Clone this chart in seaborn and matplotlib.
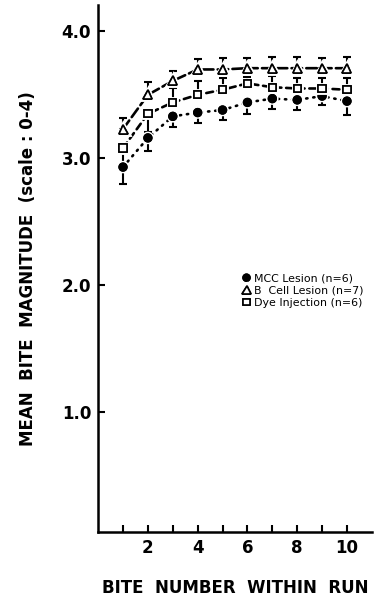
import numpy as np
import pandas as pd
import matplotlib
matplotlib.use("Agg")
import matplotlib.pyplot as plt
import matplotlib.patheffects as pe
import seaborn as sns

# Bite number within a run
bites = [1, 2, 3, 4, 5, 6, 7, 8, 9, 10]

# Mean bite magnitude per group
mcc_mean = [2.93, 3.16, 3.33, 3.36, 3.38, 3.44, 3.47, 3.46, 3.49, 3.45]
bcell_mean = [3.23, 3.50, 3.61, 3.70, 3.70, 3.71, 3.71, 3.71, 3.71, 3.71]
dye_mean = [3.08, 3.35, 3.44, 3.50, 3.54, 3.59, 3.56, 3.55, 3.55, 3.54]

# Standard errors (lower, upper) as drawn for each group
mcc_err_lo = [0.13, 0.10, 0.08, 0.08, 0.08, 0.09, 0.08, 0.08, 0.07, 0.11]
mcc_err_hi = [0, 0, 0, 0, 0, 0, 0, 0, 0, 0]
bcell_err_lo = [0, 0, 0, 0, 0, 0, 0, 0, 0, 0]
bcell_err_hi = [0.09, 0.10, 0.08, 0.08, 0.09, 0.08, 0.09, 0.09, 0.08, 0.09]
dye_err_lo = [0.13, 0.14, 0, 0, 0, 0, 0, 0, 0, 0]
dye_err_hi = [0, 0, 0.11, 0.11, 0.09, 0.05, 0.09, 0.08, 0.08, 0.09]

labels = ["MCC Lesion (n=6)", "B  Cell Lesion (n=7)", "Dye Injection (n=6)"]

df = pd.DataFrame({
    "bite": bites * 3,
    "mean": mcc_mean + bcell_mean + dye_mean,
    "group": [labels[0]] * 10 + [labels[1]] * 10 + [labels[2]] * 10,
})

sns.set_style("ticks")
plt.rcParams["font.family"] = ["DejaVu Sans"]
plt.rcParams["text.color"] = "black"
plt.rcParams["axes.labelcolor"] = "black"

fig = plt.figure(figsize=(3.76, 6.0), dpi=100)
ax = fig.add_axes([0.261, 0.113, 0.728, 0.879])

styles = {
    labels[0]: dict(ls=(0, (0.5, 2.2)), marker="o", mfc="black", ms=5.5,
                    lo=mcc_err_lo, hi=mcc_err_hi, mean=mcc_mean),
    labels[1]: dict(ls=(0, (4.0, 1.6)), marker="^", mfc="white", ms=6.5,
                    lo=bcell_err_lo, hi=bcell_err_hi, mean=bcell_mean),
    labels[2]: dict(ls=(0, (2.6, 1.8)), marker="s", mfc="white", ms=5.2,
                    lo=dye_err_lo, hi=dye_err_hi, mean=dye_mean),
}

handles = []
for g in labels:
    st = styles[g]
    sub = df[df["group"] == g]
    sns.lineplot(data=sub, x="bite", y="mean", ax=ax, color="black",
                 linewidth=1.9, linestyle=st["ls"], dash_capstyle="round",
                 legend=False, zorder=2)
    ax.errorbar(bites, st["mean"], yerr=[st["lo"], st["hi"]], fmt="none",
                ecolor="black", elinewidth=1.5, capsize=3.2, capthick=1.5,
                zorder=3)
    h, = ax.plot(bites, st["mean"], linestyle="none", marker=st["marker"],
                 ms=st["ms"], mfc=st["mfc"], mec="black", mew=1.2, zorder=4,
                 path_effects=[pe.withStroke(linewidth=3.5, foreground="white"),
                               pe.Normal()])
    handles.append(h)

ax.set_xlim(0, 11)
ax.set_ylim(0.05, 4.21)
ax.set_xticks(bites)
ax.set_xticklabels(["" if b % 2 else str(b) for b in bites])
ax.set_yticks([1.0, 2.0, 3.0, 4.0])
ax.set_yticklabels(["1.0", "2.0", "3.0", "4.0"])
ax.tick_params(axis="both", direction="in", length=5, width=1.5,
               labelsize=12, pad=5, colors="black")
for lab in ax.get_xticklabels() + ax.get_yticklabels():
    lab.set_fontweight("bold")

for side in ["top", "right"]:
    ax.spines[side].set_visible(False)
for side in ["left", "bottom"]:
    ax.spines[side].set_linewidth(1.8)
    ax.spines[side].set_color("black")

ax.set_xlabel("BITE  NUMBER  WITHIN  RUN", fontsize=12, labelpad=16,
              fontweight="bold")
ax.set_ylabel("MEAN  BITE  MAGNITUDE  (scale : 0-4)", fontsize=12,
              labelpad=18, fontweight="bold")

leg = ax.legend(handles, labels, loc="upper left",
                bbox_to_anchor=(0.5, 0.505), frameon=False, fontsize=7.9,
                handlelength=0.7, handletextpad=0.3, labelspacing=0.2,
                borderpad=0.2, markerscale=0.9)

fig.savefig("out.png", dpi=100, facecolor="white")
